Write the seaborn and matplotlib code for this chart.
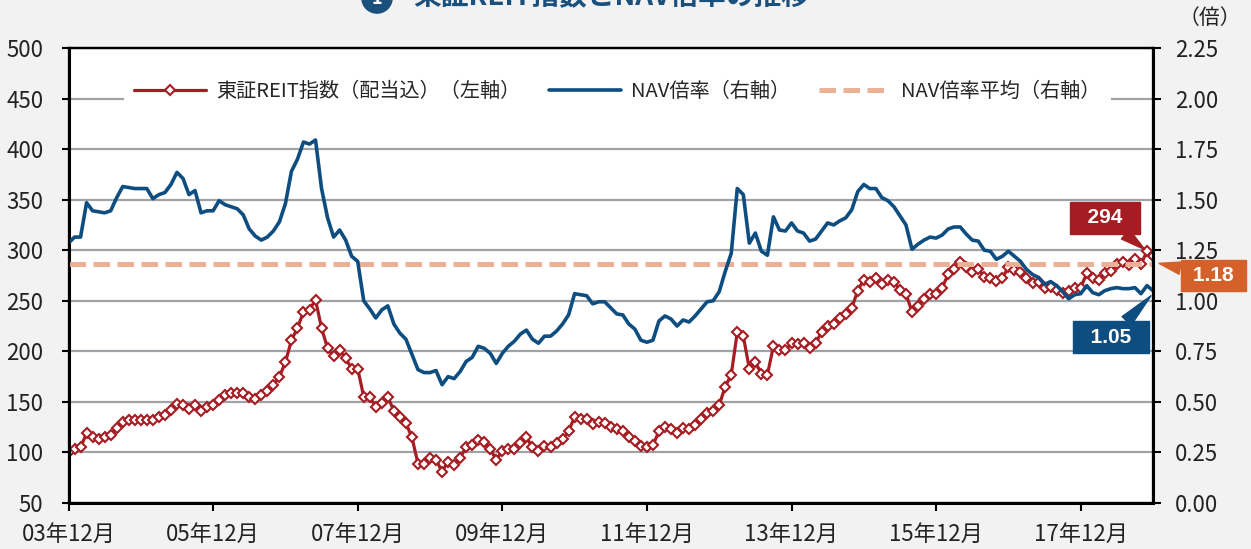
import numpy as np
import pandas as pd
import seaborn as sns
import matplotlib.pyplot as plt

# 東証REIT指数（配当込）, monthly from 03年12月 (=100)
reit_index = [
    100, 103, 105, 119, 115, 113, 115, 117, 124, 130, 132, 132, 132, 132, 132, 135,
    137, 142, 148, 147, 143, 147, 141, 145, 147, 152, 157, 159, 159, 159, 155, 153,
    157, 161, 167, 175, 189, 211, 223, 239, 241, 251, 223, 203, 195, 201, 193, 183,
    183, 155, 155, 145, 149, 155, 141, 135, 129, 115, 89, 89, 95, 93, 81, 91,
    88, 95, 105, 107, 112, 110, 103, 93, 101, 103, 103, 109, 115, 105, 101, 106,
    105, 109, 113, 121, 135, 133, 133, 128, 130, 129, 125, 123, 121, 115, 111, 106,
    105, 107, 121, 125, 123, 119, 124, 123, 127, 133, 139, 141, 147, 165, 177, 219,
    215, 183, 189, 178, 177, 205, 201, 201, 208, 207, 208, 203, 208, 219, 225, 227,
    233, 237, 243, 260, 271, 269, 273, 267, 271, 269, 261, 257, 239, 245, 252, 257,
    257, 263, 276, 281, 288, 283, 278, 281, 274, 273, 270, 273, 283, 280, 278, 273,
    268, 269, 263, 264, 261, 258, 260, 263, 263, 277, 273, 271, 277, 279, 286, 288,
    285, 291, 286, 299, 294,
]

# NAV倍率, same months
nav_ratio = [
    1.285, 1.315, 1.315, 1.485, 1.445, 1.44, 1.435, 1.445, 1.51, 1.565, 1.56, 1.555,
    1.555, 1.555, 1.505, 1.525, 1.535, 1.575, 1.635, 1.605, 1.525, 1.545, 1.435, 1.445,
    1.445, 1.495, 1.475, 1.465, 1.455, 1.425, 1.355, 1.32, 1.30, 1.315, 1.345, 1.39,
    1.48, 1.64, 1.70, 1.785, 1.775, 1.795, 1.555, 1.41, 1.315, 1.35, 1.30, 1.22,
    1.195, 1.00, 0.96, 0.915, 0.955, 0.975, 0.885, 0.84, 0.81, 0.735, 0.66, 0.645,
    0.645, 0.655, 0.585, 0.625, 0.615, 0.65, 0.70, 0.72, 0.775, 0.765, 0.74, 0.69,
    0.74, 0.775, 0.80, 0.835, 0.855, 0.81, 0.79, 0.825, 0.825, 0.85, 0.885, 0.93,
    1.035, 1.03, 1.025, 0.985, 0.995, 0.995, 0.965, 0.935, 0.93, 0.885, 0.86, 0.805,
    0.795, 0.805, 0.90, 0.925, 0.91, 0.875, 0.905, 0.895, 0.925, 0.96, 0.995, 1.00,
    1.045, 1.145, 1.235, 1.555, 1.525, 1.285, 1.335, 1.245, 1.225, 1.415, 1.35, 1.345,
    1.385, 1.345, 1.335, 1.295, 1.305, 1.345, 1.385, 1.375, 1.395, 1.41, 1.45, 1.54,
    1.575, 1.555, 1.555, 1.51, 1.495, 1.465, 1.42, 1.375, 1.255, 1.28, 1.30, 1.315,
    1.31, 1.325, 1.355, 1.365, 1.365, 1.33, 1.30, 1.295, 1.25, 1.245, 1.205, 1.22,
    1.245, 1.22, 1.195, 1.155, 1.13, 1.115, 1.08, 1.095, 1.075, 1.045, 1.01, 1.03,
    1.035, 1.075, 1.04, 1.03, 1.05, 1.06, 1.065, 1.06, 1.06, 1.065, 1.035, 1.075, 1.05,
]

nav_avg = 1.18
tick_labels = ["03年12月", "05年12月", "07年12月", "09年12月",
               "11年12月", "13年12月", "15年12月", "17年12月"]
reit_last_label = "294"
nav_last_label = "1.05"
avg_label = "1.18"

RED = "#a51c22"
BLUE = "#0e4d80"
PEACH = "#ebb096"
ORANGE = "#d4602a"

sns.set_style("white")
plt.rcParams["font.family"] = ["Liberation Sans Narrow", "Noto Sans CJK JP", "DejaVu Sans"]

df = pd.DataFrame({
    "month": np.arange(len(reit_index)),
    "reit": reit_index,
    "nav": nav_ratio,
})

fig = plt.figure(figsize=(12.51, 5.49), dpi=100, facecolor="#f2f2f2")
ax = fig.add_axes([68.5 / 1251, 46 / 549, 1084.5 / 1251, 455 / 549])
ax.set_facecolor("white")
ax2 = ax.twinx()

sns.lineplot(data=df, x="month", y="reit", ax=ax, color=RED, lw=2.3,
             marker="D", ms=5, mfc="white", mec=RED, mew=1.5,
             label="東証REIT指数（配当込）（左軸）", legend=False)
sns.lineplot(data=df, x="month", y="nav", ax=ax2, color=BLUE, lw=2.6,
             label="NAV倍率（右軸）", legend=False)
ax2.axhline(nav_avg, color=PEACH, lw=3.6, dashes=(3.3, 1.5),
            label="NAV倍率平均（右軸）", zorder=1)

ax.set_xlim(0, len(reit_index) - 1)
ax.set_ylim(50, 500)
ax2.set_ylim(0, 2.25)
ax.set_yticks(np.arange(50, 501, 50))
ax2.set_yticks(np.arange(0, 2.26, 0.25))
ax2.set_yticklabels([f"{v:.2f}" for v in np.arange(0, 2.26, 0.25)])
ax.set_xticks(np.arange(0, len(reit_index), 24))
ax.set_xticklabels(tick_labels)
ax.set_xlabel("")
ax.set_ylabel("")
ax2.set_ylabel("")

ax.grid(axis="y", color="#9ea3a8", lw=1.6)
ax.set_axisbelow(True)
ax2.grid(False)

for a in (ax, ax2):
    for s in a.spines.values():
        s.set_color("black")
        s.set_linewidth(1.6)
ax.spines["left"].set_linewidth(2.2)
ax2.spines["right"].set_linewidth(2.2)
ax.spines["bottom"].set_linewidth(2.2)

ax.tick_params(axis="y", direction="out", length=5, width=1.5, labelsize=16,
               pad=13, colors="black", labelcolor="#222222", left=True)
ax2.tick_params(axis="y", direction="out", length=6, width=1.5, labelsize=16,
                pad=10, colors="black", labelcolor="#222222", right=True)
ax.tick_params(axis="x", direction="out", length=6, width=1.5, labelsize=16,
               pad=8, colors="black", labelcolor="#222222", bottom=True)

h1, l1 = ax.get_legend_handles_labels()
h2, l2 = ax2.get_legend_handles_labels()
leg = ax2.legend(h1 + h2, l1 + l2, loc="center", bbox_to_anchor=(0.506, 0.905),
                 ncol=3, fontsize=14.5, frameon=True, facecolor="white",
                 edgecolor="none", framealpha=1, handlelength=3.6,
                 handletextpad=0.5, columnspacing=1.4, borderpad=0.5)
leg.set_zorder(5)

# callouts
ax.annotate(f"  {reit_last_label}  ", xy=(179, 299), xytext=(172, 332),
            ha="center", va="center", color="white", fontsize=15, weight="bold",
            family=["Liberation Sans", "DejaVu Sans"],
            bbox=dict(boxstyle="square,pad=0.3", fc=RED, ec=RED),
            arrowprops=dict(arrowstyle="wedge,tail_width=0.6,shrink_factor=0.5",
                            fc=RED, ec=RED, shrinkA=0, shrinkB=2),
            annotation_clip=False, zorder=6)
ax2.annotate(f"  {nav_last_label}  ", xy=(180, 1.035), xytext=(173, 0.82),
             ha="center", va="center", color="white", fontsize=15, weight="bold",
             family=["Liberation Sans", "DejaVu Sans"],
             bbox=dict(boxstyle="square,pad=0.3", fc=BLUE, ec=BLUE),
             arrowprops=dict(arrowstyle="wedge,tail_width=0.6,shrink_factor=0.5",
                             fc=BLUE, ec=BLUE, shrinkA=0, shrinkB=2),
             annotation_clip=False, zorder=6)
ax2.annotate(f" {avg_label} ", xy=(181, 1.185), xytext=(190, 1.125),
             ha="center", va="center", color="white", fontsize=15, weight="bold",
             family=["Liberation Sans", "DejaVu Sans"],
             bbox=dict(boxstyle="square,pad=0.3", fc=ORANGE, ec=ORANGE),
             arrowprops=dict(arrowstyle="wedge,tail_width=0.6,shrink_factor=0.5",
                             fc=ORANGE, ec=ORANGE, shrinkA=0, shrinkB=0),
             annotation_clip=False, zorder=6)

# title (cut at the top edge as in the source) and unit label
fig.text(413 / 1251, 1 + 4 / 549, "東証REIT指数とNAV倍率の推移", ha="left", va="center",
         fontsize=20, weight="bold", color="#1b4f7c",
         family=["Noto Sans CJK JP", "DejaVu Sans"])
fig.text(377 / 1251, 1 + 2 / 549, "1", ha="center", va="center", fontsize=13,
         weight="bold", color="white",
         bbox=dict(boxstyle="circle,pad=0.35", fc="#1b4f7c", ec="none"))
fig.text(1210 / 1251, 1 - 18 / 549, "（倍）", ha="center", va="center",
         fontsize=15, color="#222222", family=["Noto Sans CJK JP", "DejaVu Sans"])

fig.savefig("out.png", dpi=100, facecolor=fig.get_facecolor())
